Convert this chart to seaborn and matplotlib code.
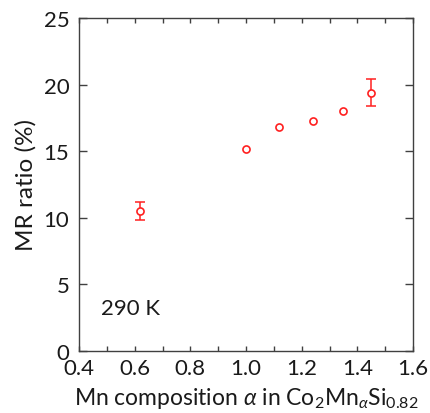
import matplotlib
matplotlib.use("Agg")
import matplotlib.pyplot as plt
import seaborn as sns
import pandas as pd

mn_alpha = [0.62, 1.00, 1.12, 1.24, 1.35, 1.45]
mr_ratio = [10.5, 15.2, 16.8, 17.3, 18.0, 19.4]
mr_err = [0.65, 0, 0, 0, 0, 1.0]

df = pd.DataFrame({"alpha": mn_alpha, "mr": mr_ratio, "err": mr_err})

sns.set_theme(style="ticks")
plt.rcParams["font.family"] = ["Lato", "DejaVu Sans"]
plt.rcParams["mathtext.fontset"] = "custom"
plt.rcParams["mathtext.rm"] = "Lato"
plt.rcParams["mathtext.it"] = "Lato:italic"

dark = "#404040"
txt = "#1a1a1a"
fig = plt.figure(figsize=(4.30, 4.14), dpi=100)
ax = fig.add_axes([79 / 430, 1 - 352 / 414, 334 / 430, 333 / 414])

witherr = df[df["err"] > 0]
ax.errorbar(witherr["alpha"], witherr["mr"], yerr=witherr["err"], fmt="none",
            ecolor="#ff2020", elinewidth=1.1, capsize=3.3, capthick=1.1, zorder=2)
sns.scatterplot(data=df, x="alpha", y="mr", ax=ax, marker="o", s=26,
                facecolor="white", edgecolor="#ff2020", linewidth=1.2, zorder=3)

ax.set_xlim(0.4, 1.6)
ax.set_ylim(0, 25)
ax.set_xticks([0.4, 0.6, 0.8, 1.0, 1.2, 1.4, 1.6])
ax.set_xticklabels(["0.4", "0.6", "0.8", "1.0", "1.2", "1.4", "1.6"])
ax.set_xticks([0.5, 0.7, 0.9, 1.1, 1.3, 1.5], minor=True)
ax.set_yticks([0, 5, 10, 15, 20, 25])
ax.tick_params(which="both", direction="in", top=True, right=True, color=dark,
               labelsize=16, labelcolor=txt, width=1.0, pad=7)
ax.tick_params(axis="x", which="both", length=3.8, pad=5)
ax.tick_params(axis="y", which="major", length=6)
for sp in ax.spines.values():
    sp.set_color(dark)
    sp.set_linewidth(1.0)

ax.set_xlabel(r"Mn composition $\mathit{\alpha}$ in Co$_2$Mn$_{\mathit{\alpha}}$Si$_{0.82}$",
              fontsize=16.5, color=txt, labelpad=5)
ax.set_ylabel("MR ratio (%)", fontsize=17.5, color=txt, labelpad=5)
ax.text(0.48, 3.2, "290 K", fontsize=16, color=txt, va="center")

fig.savefig("out.png", dpi=100)
